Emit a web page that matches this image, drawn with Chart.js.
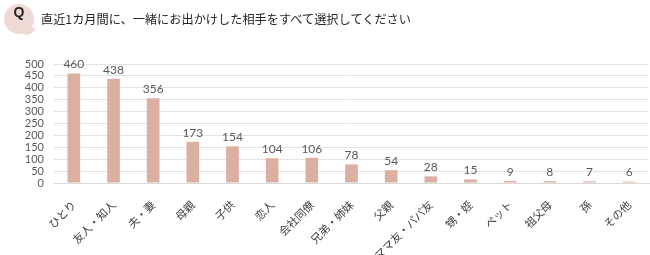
<!DOCTYPE html>
<html><head><meta charset="utf-8">
<script src="https://cdn.jsdelivr.net/npm/chart.js@4.4.1/dist/chart.umd.min.js"></script>
<style>
html,body{margin:0;padding:0;background:#fff;}
#wrap{position:relative;width:650px;height:255px;overflow:hidden;}
#hdr{position:absolute;left:0;top:0;width:650px;height:40px;}
#bubble{position:absolute;left:4px;top:4px;width:30px;height:30px;border-radius:50%;background:#efd9d4;}
#tail{position:absolute;left:24px;top:27px;width:10px;height:8px;background:#efd9d4;transform:skewX(-30deg) rotate(20deg);border-radius:0 0 6px 0;}
#q{position:absolute;left:4px;top:4px;width:30px;height:30px;line-height:30px;text-align:center;font:bold 14px "Liberation Sans",Arial,sans-serif;color:#222;}
#title{position:absolute;left:41px;top:10px;font:12.2px "Noto Sans CJK JP",sans-serif;color:#262626;white-space:nowrap;}
canvas{position:absolute;left:0;top:0;}
</style></head>
<body><div id="wrap">
<canvas id="c" width="650" height="255"></canvas>
<div id="hdr"><div id="tail"></div><div id="bubble"></div><div id="q">Q</div><div id="title">直近1カ月間に、一緒にお出かけした相手をすべて選択してください</div></div>
</div>
<script>
const categories = ["ひとり","友人・知人","夫・妻","母親","子供","恋人","会社同僚","兄弟・姉妹","父親","ママ友・パパ友","甥・姪","ペット","祖父母","孫","その他"];
const values = [460,438,356,173,154,104,106,78,54,28,15,9,8,7,6];
const yTicks = [0,50,100,150,200,250,300,350,400,450,500];

const labelPlugin = {
  id:'vals',
  afterDatasetsDraw(chart){
    const ctx = chart.ctx;
    const meta = chart.getDatasetMeta(0);
    ctx.save();
    ctx.font = '12px Lato, "DejaVu Sans", sans-serif';
    ctx.fillStyle = '#595959';
    ctx.textAlign = 'center';
    ctx.textBaseline = 'bottom';
    meta.data.forEach((bar,i)=>{
      ctx.fillText(String(values[i]), bar.x, bar.y - 3);
    });
    ctx.restore();
  }
};

new Chart(document.getElementById('c'),{
  type:'bar',
  data:{labels:categories,datasets:[{data:values,backgroundColor:'#dbb0a3',barPercentage:0.64,categoryPercentage:0.5}]},
  options:{
    responsive:false,animation:false,
    layout:{padding:{top:64,right:1,left:8,bottom:0}},
    plugins:{legend:{display:false},tooltip:{enabled:false}},
    scales:{
      x:{
        afterFit(scale){scale.height = 72;},
        grid:{display:false},
        border:{display:true,color:'#d9d9d9'},
        ticks:{minRotation:45,maxRotation:45,autoSkip:false,color:'#404040',padding:7,
          font:{family:'"Noto Sans CJK JP", sans-serif',size:11}}
      },
      y:{
        min:0,max:500,
        afterBuildTicks(axis){axis.ticks = yTicks.map(v=>({value:v}));},
        afterFit(scale){scale.width = 46;},
        grid:{color:'#e3e3e3',drawTicks:false},
        border:{display:false},
        ticks:{autoSkip:false,color:'#595959',padding:10,font:{family:'Lato, "DejaVu Sans", sans-serif',size:11}}
      }
    }
  },
  plugins:[labelPlugin]
});
</script>
</body></html>
